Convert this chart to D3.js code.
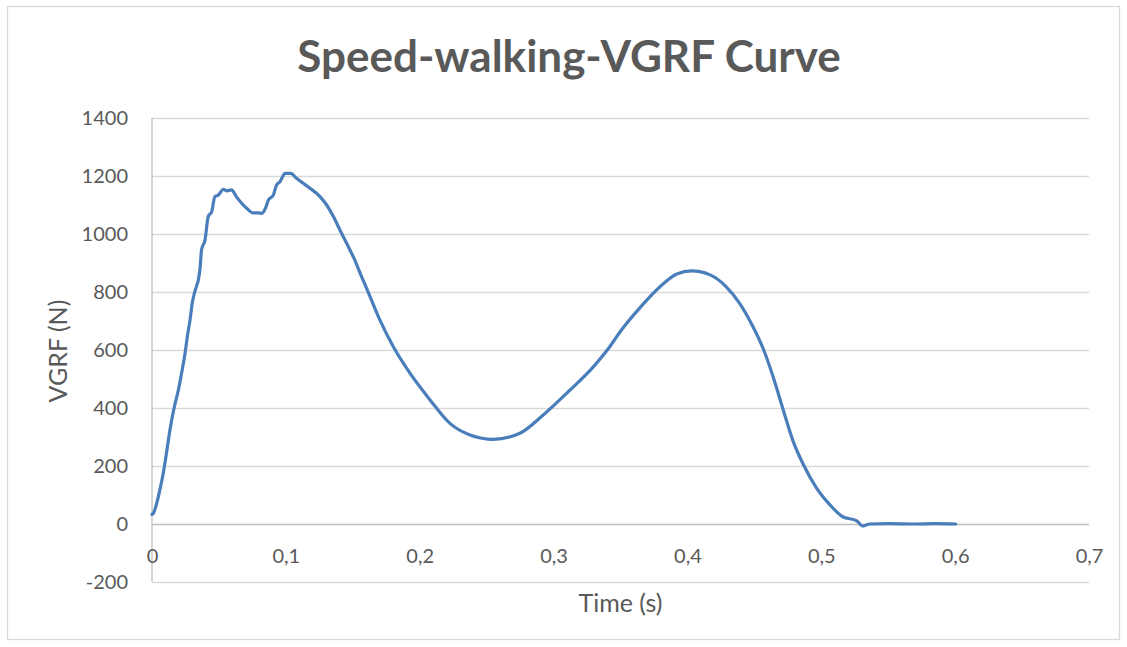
<!DOCTYPE html>
<meta charset="utf-8">
<style>
    body {
        margin: 0;
        background: #fff;
    }

    text {
        font-family: Lato, "Open Sans", sans-serif;
        fill: #595959;
    }

    .grid line {
        stroke-width: 1.3px;
    }
</style>
<svg width="1127" height="647"></svg>
<script src="https://d3js.org/d3.v7.min.js"></script>
<script>

    // time (s) and vertical ground reaction force (N)
    var timeValues = [
        0, 0.001, 0.0035, 0.006, 0.0084, 0.011, 0.0134, 0.0165, 0.0197, 0.0225,
        0.0247, 0.0265, 0.0284, 0.030, 0.0316, 0.0334, 0.0346, 0.0359, 0.037, 0.0396,
        0.042, 0.0446, 0.047, 0.0495, 0.0533, 0.056, 0.0595, 0.063, 0.067, 0.0707,
        0.0757, 0.0794, 0.082, 0.0844, 0.087, 0.0906, 0.0931, 0.0956, 0.0994, 0.1036,
        0.108, 0.113, 0.118, 0.1255, 0.1305, 0.1355, 0.1404, 0.1479, 0.1517, 0.1554,
        0.1604, 0.1703, 0.1803, 0.1927, 0.2077, 0.2226, 0.2376, 0.255, 0.2749, 0.2923,
        0.3123, 0.3297, 0.3421, 0.3496, 0.3646, 0.3795, 0.392, 0.4032, 0.417, 0.429,
        0.439, 0.449, 0.457, 0.464, 0.4716, 0.479, 0.4866, 0.4966, 0.5065, 0.516,
        0.5265, 0.531, 0.536, 0.55, 0.57, 0.585, 0.6005
    ];
    var forceValues = [
        33, 37, 71, 120, 175, 250, 324, 400, 462, 530,
        589, 650, 703, 760, 795, 822, 841, 882, 945, 979,
        1060, 1077, 1129, 1134, 1154, 1149, 1152, 1129, 1106, 1089,
        1073, 1073, 1071, 1085, 1117, 1134, 1169, 1180, 1209, 1209,
        1192, 1175, 1158, 1129, 1100, 1060, 1014, 945, 908, 866,
        812, 703, 611, 520, 428, 347, 307, 292, 313, 376,
        462, 542, 612, 662, 746, 818, 862, 873, 859, 818,
        761, 680, 600, 508, 393, 285, 205, 123, 66, 25,
        11, -7, 0, 1, 0, 1, 0
    ];
    var xTicks = [0, 0.1, 0.2, 0.3, 0.4, 0.5, 0.6, 0.7];
    var yTicks = [-200, 0, 200, 400, 600, 800, 1000, 1200, 1400];

    var chartTitle = "Speed-walking-VGRF Curve",
        xTitle = "Time (s)",
        yTitle = "VGRF (N)";

    var points = timeValues.map(function (t, i) {
        return {t: t, v: forceValues[i]};
    });

    var svg = d3.select("svg"),
        width = +svg.attr("width"),
        height = +svg.attr("height"),
        plotLeft = 152, plotRight = 1089, plotTop = 118, plotBottom = 582;

    var x = d3.scaleLinear().domain([0, 0.7]).range([plotLeft, plotRight]);
    var y = d3.scaleLinear().domain([-200, 1400]).range([plotBottom, plotTop]);

    var comma = d3.formatLocale({decimal: ",", thousands: ".", grouping: [3], currency: ["", ""], minus: "-"});
    var fmtX = comma.format("~g");
    var fmtY = comma.format("d");

    // chart area border
    svg.append("rect")
        .attr("x", 7.5).attr("y", 6.5)
        .attr("width", width - 15).attr("height", height - 14)
        .attr("fill", "none")
        .attr("stroke", "#d9d9d9")
        .attr("stroke-width", 1.3);

    // horizontal gridlines
    svg.append("g")
        .attr("class", "grid")
        .attr("transform", "translate(" + plotLeft + ",0)")
        .call(d3.axisLeft(y).tickValues(yTicks).tickSize(-(plotRight - plotLeft)).tickFormat(""))
        .call(function (g) { g.select(".domain").remove(); })
        .selectAll("line")
        .attr("stroke", function (d) { return d === 0 ? "#bfbfbf" : "#d9d9d9"; });

    // vertical axis line
    svg.append("line")
        .attr("x1", plotLeft).attr("x2", plotLeft)
        .attr("y1", plotTop).attr("y2", plotBottom)
        .attr("stroke", "#bfbfbf")
        .attr("stroke-width", 1.3);

    // y tick labels
    var yAxis = svg.append("g")
        .attr("transform", "translate(" + plotLeft + ",0)")
        .call(d3.axisLeft(y).tickValues(yTicks).tickSize(0).tickPadding(24).tickFormat(fmtY));
    yAxis.select(".domain").remove();
    yAxis.selectAll("text")
        .attr("fill", "#595959")
        .style("font-family", "Lato, sans-serif")
        .style("font-size", "20px");

    // x tick labels, sitting under the zero line
    var xAxis = svg.append("g")
        .attr("transform", "translate(0," + y(0) + ")")
        .call(d3.axisBottom(x).tickValues(xTicks).tickSize(0).tickFormat(fmtX));
    xAxis.select(".domain").remove();
    xAxis.selectAll("text")
        .attr("y", 39)
        .attr("dy", 0)
        .attr("fill", "#595959")
        .style("font-family", "Lato, sans-serif")
        .style("font-size", "20px");

    // the curve
    var line = d3.line()
        .x(function (d) { return x(d.t); })
        .y(function (d) { return y(d.v); })
        .curve(d3.curveMonotoneX);

    svg.append("path")
        .datum(points)
        .attr("d", line)
        .attr("fill", "none")
        .attr("stroke", "#4a7ebb")
        .attr("stroke-width", 3.2)
        .attr("stroke-linejoin", "round")
        .attr("stroke-linecap", "round");

    // titles
    svg.append("text")
        .attr("x", 569).attr("y", 72)
        .attr("text-anchor", "middle")
        .style("font-size", "44px")
        .style("font-weight", "bold")
        .text(chartTitle);

    svg.append("text")
        .attr("x", (plotLeft + plotRight) / 2).attr("y", 612)
        .attr("text-anchor", "middle")
        .style("font-size", "25px")
        .text(xTitle);

    svg.append("text")
        .attr("transform", "translate(67,351) rotate(-90)")
        .attr("text-anchor", "middle")
        .style("font-size", "25px")
        .text(yTitle);
</script>
